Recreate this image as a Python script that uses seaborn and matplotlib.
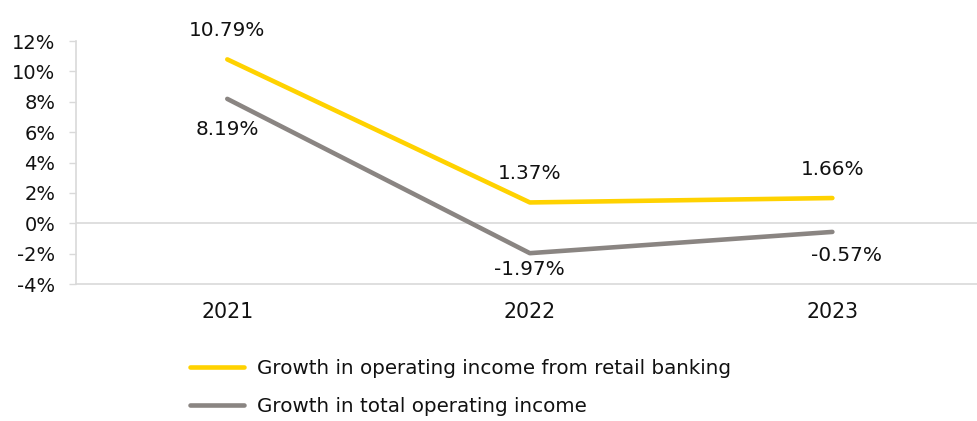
import matplotlib
matplotlib.use("Agg")
import matplotlib.pyplot as plt
import seaborn as sns
import pandas as pd
from matplotlib.ticker import FuncFormatter

years = ["2021", "2022", "2023"]
retail_growth = [10.79, 1.37, 1.66]
total_growth = [8.19, -1.97, -0.57]
series_names = ["Growth in operating income from retail banking",
                "Growth in total operating income"]
y_ticks = [-4, -2, 0, 2, 4, 6, 8, 10, 12]

df = pd.DataFrame({
    "year": years * 2,
    "value": retail_growth + total_growth,
    "series": [series_names[0]] * 3 + [series_names[1]] * 3,
})

sns.set_theme(style="white")
plt.rcParams["font.family"] = ["DejaVu Sans"]

fig = plt.figure(figsize=(9.77, 4.21), dpi=100)
ax = fig.add_axes([0.0778, 0.3254, 0.929, 0.5772])

palette = {series_names[0]: "#FFD200", series_names[1]: "#8A8582"}
sns.lineplot(data=df, x="year", y="value", hue="series", palette=palette,
             linewidth=3.3, ax=ax, sort=False, legend=True,
             solid_capstyle="round")

ax.set_xlim(-0.5, 2.5)
ax.set_ylim(-4, 12)
ax.set_yticks(y_ticks)
ax.yaxis.set_major_formatter(FuncFormatter(lambda v, p: f"{v:.0f}%"))
ax.set_xlabel("")
ax.set_ylabel("")

ax.axhline(0, color="#D9D9D9", linewidth=1.2, zorder=0)
for side in ["top", "right"]:
    ax.spines[side].set_visible(False)
for side in ["left", "bottom"]:
    ax.spines[side].set_color("#D9D9D9")
    ax.spines[side].set_linewidth(1.2)

ax.tick_params(axis="y", left=True, length=5, width=1.0, color="#D9D9D9",
               labelsize=14, labelcolor="#111111", pad=10)
ax.tick_params(axis="x", bottom=False, labelsize=14.8, labelcolor="#111111", pad=7)

# value labels
label_style = dict(fontsize=14.4, color="#111111", ha="center")
for i, v in enumerate(retail_growth):
    ax.annotate(f"{v:.2f}%", (i, v), xytext=(0, 14), textcoords="offset points",
                va="bottom", **label_style)
offsets = [(0, -15), (0, -5), (10, -10)]
for i, v in enumerate(total_growth):
    ax.annotate(f"{v:.2f}%", (i, v), xytext=offsets[i], textcoords="offset points",
                va="top", **label_style)

handles, labels = ax.get_legend_handles_labels()
ax.legend_.remove()
fig.legend(handles, labels, loc="upper left", bbox_to_anchor=(0.186, 0.167),
           frameon=False, fontsize=14.3, handlelength=2.75, handletextpad=0.65,
           labelspacing=0.95, borderaxespad=0, labelcolor="#111111")

fig.savefig("out.png", dpi=100)
